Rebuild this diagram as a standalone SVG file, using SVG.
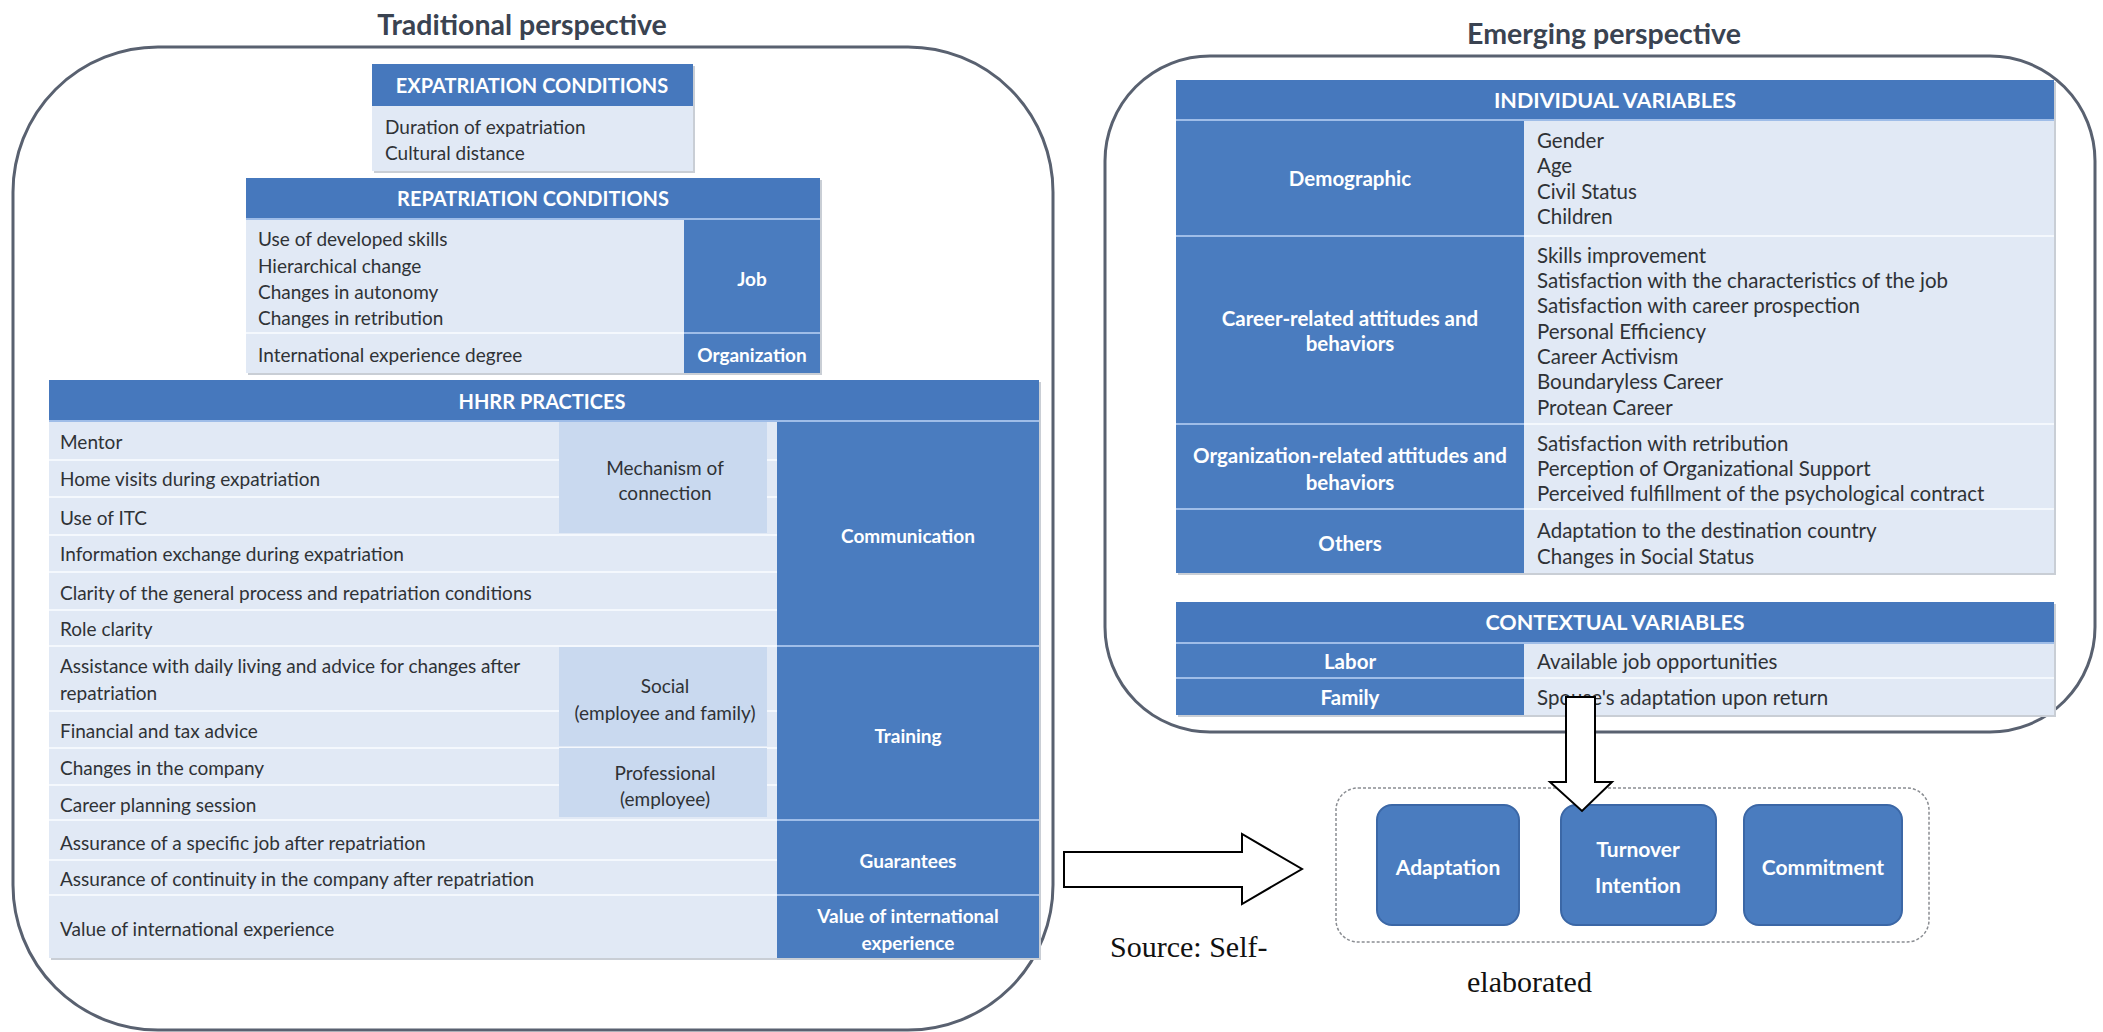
<svg xmlns="http://www.w3.org/2000/svg" width="2103" height="1032" viewBox="0 0 2103 1032">
  <style>
    .frame { fill: none; stroke: #596170; stroke-width: 3; }
    .shadow { fill: #c9ced5; }
    .hdr { fill: #4678bd; }
    .blue { fill: #4a7cbf; }
    .lt { fill: #e1e9f5; }
    .mid { fill: #c9d9ef; }
    .sep { stroke: #f4f8fd; stroke-width: 2; }
    .bsep { stroke: #9fbde8; stroke-width: 2; }
    .t { font-family: Lato, "Liberation Sans", sans-serif; font-size: 19px; fill: #2f3236; dominant-baseline: central; }
    .tr { font-size: 20.5px; }
    .tc { text-anchor: middle; }
    .w { font-family: Lato, "Liberation Sans", sans-serif; font-size: 19px; font-weight: bold; fill: #ffffff; text-anchor: middle; dominant-baseline: central; }
    .h { font-size: 20px; }
    .hr { font-size: 21.5px; }
    .wr { font-size: 20.5px; }
    .title { font-family: Lato, "Liberation Sans", sans-serif; font-size: 28.5px; font-weight: bold; fill: #3a4351; text-anchor: middle; dominant-baseline: central; }
    .src { font-family: "Liberation Serif", serif; font-size: 30px; fill: #111111; }
    .node { fill: #4a7cbf; stroke: #3b67a6; stroke-width: 2; }
    .nt { font-size: 21px; }
    .arrow { fill: #ffffff; stroke: #000000; stroke-width: 2; stroke-linejoin: miter; }
  </style>

  <!-- Traditional perspective panel -->
  <g id="traditional">
    <text class="title" x="522" y="24">Traditional perspective</text>
    <rect class="frame" x="13" y="47" width="1040" height="983" rx="145" ry="145"/>
  </g>

  <g id="expatriation-conditions">
    <rect class="shadow" x="374" y="66" width="321" height="107"/>
    <rect class="lt" x="372" y="64" width="321" height="107"/>
    <rect class="hdr" x="372" y="64" width="321" height="42"/>
    <text class="w h" x="532" y="85">EXPATRIATION CONDITIONS</text>
    <text class="t" x="385" y="126">Duration of expatriation</text>
    <text class="t" x="385" y="152">Cultural distance</text>
  </g>

  <g id="repatriation-conditions">
    <rect class="shadow" x="248" y="180" width="574" height="195"/>
    <rect class="lt" x="246" y="178" width="574" height="195"/>
    <rect class="hdr" x="246" y="178" width="574" height="40"/>
    <text class="w h" x="533" y="198">REPATRIATION CONDITIONS</text>
    <rect class="blue" x="684" y="218" width="136" height="115"/>
    <rect class="blue" x="684" y="333" width="136" height="40"/>
    <line class="bsep" x1="246" y1="219" x2="820" y2="219"/>
    <line class="bsep" x1="684" y1="333" x2="820" y2="333"/>
    <line class="sep" x1="246" y1="333" x2="684" y2="333"/>
    <text class="t" x="258" y="238">Use of developed skills</text>
    <text class="t" x="258" y="265">Hierarchical change</text>
    <text class="t" x="258" y="291">Changes in autonomy</text>
    <text class="t" x="258" y="317">Changes in retribution</text>
    <text class="t" x="258" y="354">International experience degree</text>
    <text class="w" x="752" y="278">Job</text>
    <text class="w" x="752" y="354">Organization</text>
  </g>

  <g id="hhrr-practices">
    <rect class="shadow" x="51" y="382" width="990" height="578"/>
    <rect class="lt" x="49" y="380" width="990" height="578"/>
    <rect class="hdr" x="49" y="380" width="990" height="41"/>
    <text class="w h" x="542" y="401">HHRR PRACTICES</text>
    <!-- row separators -->
    <g>
      <line class="sep" x1="49" y1="460" x2="777" y2="460"/>
      <line class="sep" x1="49" y1="497" x2="777" y2="497"/>
      <line class="sep" x1="49" y1="535" x2="777" y2="535"/>
      <line class="sep" x1="49" y1="572" x2="777" y2="572"/>
      <line class="sep" x1="49" y1="610" x2="777" y2="610"/>
      <line class="sep" x1="49" y1="646" x2="777" y2="646"/>
      <line class="sep" x1="49" y1="711" x2="777" y2="711"/>
      <line class="sep" x1="49" y1="748" x2="777" y2="748"/>
      <line class="sep" x1="49" y1="785" x2="777" y2="785"/>
      <line class="sep" x1="49" y1="820" x2="777" y2="820"/>
      <line class="sep" x1="49" y1="860" x2="777" y2="860"/>
      <line class="sep" x1="49" y1="895" x2="777" y2="895"/>
    </g>
    <!-- sub-categories -->
    <rect class="mid" x="559" y="422" width="208" height="111"/>
    <rect class="mid" x="559" y="647" width="208" height="99"/>
    <rect class="mid" x="559" y="748" width="208" height="69"/>
    <text class="t tc" x="665" y="467">Mechanism of</text>
    <text class="t tc" x="665" y="492">connection</text>
    <text class="t tc" x="665" y="685">Social</text>
    <text class="t tc" x="665" y="712">(employee and family)</text>
    <text class="t tc" x="665" y="772">Professional</text>
    <text class="t tc" x="665" y="798">(employee)</text>
    <!-- categories -->
    <rect class="blue" x="777" y="421" width="262" height="537"/>
    <line class="bsep" x1="49" y1="421" x2="1039" y2="421"/>
    <line class="bsep" x1="777" y1="646" x2="1039" y2="646"/>
    <line class="bsep" x1="777" y1="820" x2="1039" y2="820"/>
    <line class="bsep" x1="777" y1="895" x2="1039" y2="895"/>
    <text class="w" x="908" y="535">Communication</text>
    <text class="w" x="908" y="735">Training</text>
    <text class="w" x="908" y="860">Guarantees</text>
    <text class="w" x="908" y="915">Value of international</text>
    <text class="w" x="908" y="942">experience</text>
    <!-- practices -->
    <text class="t" x="60" y="441">Mentor</text>
    <text class="t" x="60" y="478">Home visits during expatriation</text>
    <text class="t" x="60" y="517">Use of ITC</text>
    <text class="t" x="60" y="553">Information exchange during expatriation</text>
    <text class="t" x="60" y="592">Clarity of the general process and repatriation conditions</text>
    <text class="t" x="60" y="628">Role clarity</text>
    <text class="t" x="60" y="665">Assistance with daily living and advice for changes after</text>
    <text class="t" x="60" y="692">repatriation</text>
    <text class="t" x="60" y="730">Financial and tax advice</text>
    <text class="t" x="60" y="767">Changes in the company</text>
    <text class="t" x="60" y="804">Career planning session</text>
    <text class="t" x="60" y="842">Assurance of a specific job after repatriation</text>
    <text class="t" x="60" y="878">Assurance of continuity in the company after repatriation</text>
    <text class="t" x="60" y="928">Value of international experience</text>
  </g>

  <!-- Emerging perspective panel -->
  <g id="emerging">
    <text class="title" x="1604" y="33">Emerging perspective</text>
    <rect class="frame" x="1105" y="56" width="990" height="676" rx="105" ry="105"/>
  </g>

  <g id="individual-variables">
    <rect class="shadow" x="1178" y="82" width="878" height="493"/>
    <rect class="lt" x="1176" y="80" width="878" height="493"/>
    <rect class="hdr" x="1176" y="80" width="878" height="39"/>
    <rect class="blue" x="1176" y="119" width="348" height="454"/>
    <text class="w hr" x="1615" y="100">INDIVIDUAL VARIABLES</text>
    <line class="bsep" x1="1176" y1="120" x2="2054" y2="120"/>
    <line class="bsep" x1="1176" y1="236" x2="1524" y2="236"/>
    <line class="bsep" x1="1176" y1="424" x2="1524" y2="424"/>
    <line class="bsep" x1="1176" y1="509" x2="1524" y2="509"/>
    <line class="sep" x1="1524" y1="236" x2="2054" y2="236"/>
    <line class="sep" x1="1524" y1="424" x2="2054" y2="424"/>
    <line class="sep" x1="1524" y1="509" x2="2054" y2="509"/>
    <text class="w wr" x="1350" y="178">Demographic</text>
    <text class="w wr" x="1350" y="318">Career-related attitudes and</text>
    <text class="w wr" x="1350" y="343">behaviors</text>
    <text class="w wr" x="1350" y="455">Organization-related attitudes and</text>
    <text class="w wr" x="1350" y="482">behaviors</text>
    <text class="w wr" x="1350" y="543">Others</text>
    <text class="t tr" x="1537" y="140">Gender</text>
    <text class="t tr" x="1537" y="165">Age</text>
    <text class="t tr" x="1537" y="191">Civil Status</text>
    <text class="t tr" x="1537" y="216">Children</text>
    <text class="t tr" x="1537" y="255">Skills improvement</text>
    <text class="t tr" x="1537" y="280">Satisfaction with the characteristics of the job</text>
    <text class="t tr" x="1537" y="305">Satisfaction with career prospection</text>
    <text class="t tr" x="1537" y="331">Personal Efficiency</text>
    <text class="t tr" x="1537" y="356">Career Activism</text>
    <text class="t tr" x="1537" y="381">Boundaryless Career</text>
    <text class="t tr" x="1537" y="407">Protean Career</text>
    <text class="t tr" x="1537" y="443">Satisfaction with retribution</text>
    <text class="t tr" x="1537" y="468">Perception of Organizational Support</text>
    <text class="t tr" x="1537" y="493">Perceived fulfillment of the psychological contract</text>
    <text class="t tr" x="1537" y="530">Adaptation to the destination country</text>
    <text class="t tr" x="1537" y="556">Changes in Social Status</text>
  </g>

  <g id="contextual-variables">
    <rect class="shadow" x="1178" y="604" width="878" height="113"/>
    <rect class="lt" x="1176" y="602" width="878" height="113"/>
    <rect class="hdr" x="1176" y="602" width="878" height="40"/>
    <rect class="blue" x="1176" y="642" width="348" height="73"/>
    <text class="w hr" x="1615" y="622">CONTEXTUAL VARIABLES</text>
    <line class="bsep" x1="1176" y1="643" x2="2054" y2="643"/>
    <line class="bsep" x1="1176" y1="678" x2="1524" y2="678"/>
    <line class="sep" x1="1524" y1="678" x2="2054" y2="678"/>
    <text class="w wr" x="1350" y="661">Labor</text>
    <text class="w wr" x="1350" y="697">Family</text>
    <text class="t tr" x="1537" y="661">Available job opportunities</text>
    <text class="t tr" x="1537" y="697">Spouse's adaptation upon return</text>
  </g>

  <!-- Outcomes -->
  <g id="outcomes">
    <rect x="1336" y="788" width="593" height="154" rx="22" ry="22" fill="none" stroke="#8a8d92" stroke-width="1.5" stroke-dasharray="3 2"/>
  </g>
  <g id="adaptation">
    <rect class="node" x="1377" y="805" width="142" height="120" rx="15" ry="15"/>
    <text class="w nt" x="1448" y="866">Adaptation</text>
  </g>
  <g id="turnover-intention">
    <rect class="node" x="1561" y="805" width="155" height="120" rx="15" ry="15"/>
    <text class="w nt" x="1638" y="848">Turnover</text>
    <text class="w nt" x="1638" y="884">Intention</text>
  </g>
  <g id="commitment">
    <rect class="node" x="1744" y="805" width="158" height="120" rx="15" ry="15"/>
    <text class="w nt" x="1823" y="866">Commitment</text>
  </g>

  <!-- Block arrows -->
  <g id="connectors">
    <polygon class="arrow" points="1064,852 1242,852 1242,834 1302,869 1242,904 1242,887 1064,887"/>
    <polygon class="arrow" points="1566,697 1595,697 1595,782 1612,782 1582,811 1550,782 1566,782"/>
  </g>

  <g id="source-note">
    <text class="src" x="1110" y="957">Source: Self-</text>
    <text class="src" x="1467" y="992">elaborated</text>
  </g>
</svg>
